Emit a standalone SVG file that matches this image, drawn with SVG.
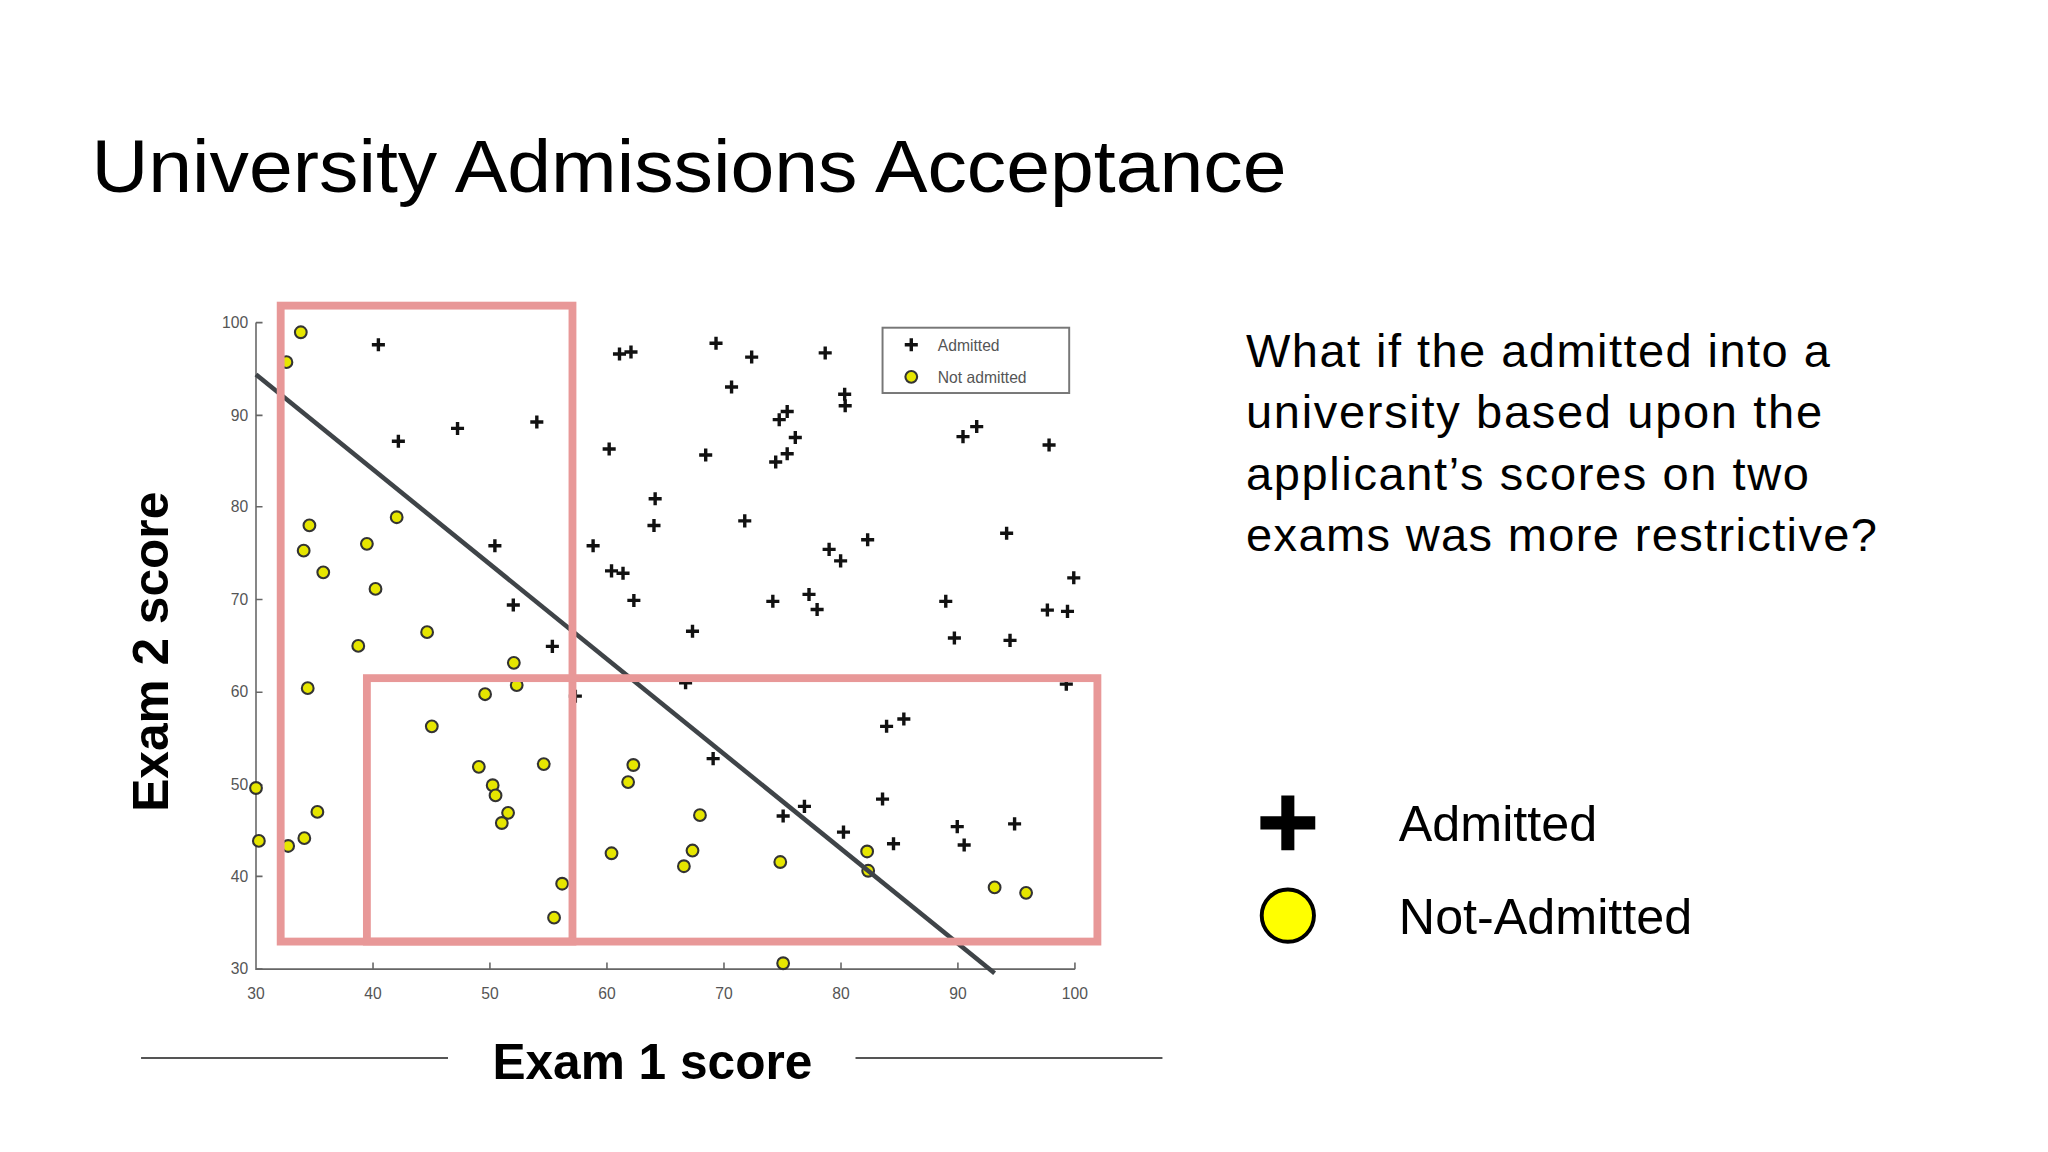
<svg xmlns="http://www.w3.org/2000/svg" width="2048" height="1152" viewBox="0 0 2048 1152">
<defs>
<style>
.t{font-family:"Liberation Sans",Arial,sans-serif;fill:#000}
.tk{font-family:"Liberation Sans",Arial,sans-serif;font-size:12px;fill:#555}
.ax{stroke:#666;stroke-width:1.2;fill:none}
.pk{fill:none;stroke:#e89898;stroke-width:6}
</style>
<g id="cr"><path d="M-5 0H5M0 -5V5" stroke="#111" stroke-width="2.6"/></g>
<g id="ci"><circle r="4.5" fill="#e6e600" stroke="#333" stroke-width="1.6"/></g>
</defs>
<rect width="2048" height="1152" fill="#fff"/>
<g transform="scale(1.30612)">
<text class="t" x="70" y="147" font-size="57" textLength="915" lengthAdjust="spacingAndGlyphs">University Admissions Acceptance</text>
<g id="axes">
<path class="ax" d="M196 247V742H823"/>
<path class="ax" d="M196 247h5M196 318h5M196 388h5M196 459h5M196 530h5M196 601h5M196 671h5M196 742h5M285.6 742v-5M375.1 742v-5M464.7 742v-5M554.3 742v-5M643.9 742v-5M733.4 742v-5M823 742v-5"/>
<g class="tk" text-anchor="end"><text x="190" y="251">100</text><text x="190" y="322">90</text><text x="190" y="392">80</text><text x="190" y="463">70</text><text x="190" y="534">60</text><text x="190" y="605">50</text><text x="190" y="675">40</text><text x="190" y="746">30</text></g>
<g class="tk" text-anchor="middle"><text x="196" y="765">30</text><text x="285.6" y="765">40</text><text x="375.1" y="765">50</text><text x="464.7" y="765">60</text><text x="554.3" y="765">70</text><text x="643.9" y="765">80</text><text x="733.4" y="765">90</text><text x="823" y="765">100</text></g>
</g>
<g id="admitted">
<use href="#cr" x="289.7" y="263.9"/><use href="#cr" x="305" y="337.8"/><use href="#cr" x="350.3" y="328"/><use href="#cr" x="411" y="323.1"/><use href="#cr" x="378.9" y="417.8"/><use href="#cr" x="393" y="463.2"/><use href="#cr" x="422.9" y="494.9"/><use href="#cr" x="440.5" y="533"/><use href="#cr" x="466.4" y="343.8"/><use href="#cr" x="474.3" y="271"/><use href="#cr" x="483.1" y="269.5"/><use href="#cr" x="548.2" y="262.8"/><use href="#cr" x="560.1" y="296.3"/><use href="#cr" x="575.5" y="273.4"/><use href="#cr" x="631.8" y="270.2"/><use href="#cr" x="646.7" y="301.9"/><use href="#cr" x="647.1" y="310.7"/><use href="#cr" x="596.6" y="321.3"/><use href="#cr" x="602.7" y="315"/><use href="#cr" x="608.9" y="335"/><use href="#cr" x="593.9" y="353.7"/><use href="#cr" x="602.7" y="347.4"/><use href="#cr" x="540.3" y="348.4"/><use href="#cr" x="501.6" y="381.9"/><use href="#cr" x="500.7" y="402.3"/><use href="#cr" x="570.2" y="398.8"/><use href="#cr" x="454.1" y="417.8"/><use href="#cr" x="468.2" y="437.1"/><use href="#cr" x="477" y="438.9"/><use href="#cr" x="485.3" y="459.7"/><use href="#cr" x="530.2" y="483.3"/><use href="#cr" x="524.9" y="522.7"/><use href="#cr" x="591.7" y="460.4"/><use href="#cr" x="619.4" y="455.1"/><use href="#cr" x="625.6" y="466.7"/><use href="#cr" x="634.8" y="420.6"/><use href="#cr" x="643.6" y="429.4"/><use href="#cr" x="664.3" y="413.2"/><use href="#cr" x="737.3" y="334.3"/><use href="#cr" x="747.8" y="326.6"/><use href="#cr" x="803.2" y="340.7"/><use href="#cr" x="770.7" y="408.3"/><use href="#cr" x="822.1" y="442.4"/><use href="#cr" x="724.1" y="460.4"/><use href="#cr" x="730.7" y="488.5"/><use href="#cr" x="773.3" y="490.3"/><use href="#cr" x="801.9" y="467.1"/><use href="#cr" x="817.3" y="468.1"/><use href="#cr" x="816.4" y="523.8"/><use href="#cr" x="678.8" y="556.1"/><use href="#cr" x="692" y="550.5"/><use href="#cr" x="546" y="580.8"/><use href="#cr" x="675.7" y="611.8"/><use href="#cr" x="615.9" y="617.4"/><use href="#cr" x="599.6" y="624.8"/><use href="#cr" x="645.8" y="637.1"/><use href="#cr" x="684.1" y="646"/><use href="#cr" x="732.9" y="632.9"/><use href="#cr" x="738.2" y="647"/><use href="#cr" x="776.8" y="630.8"/>
</g>
<g id="notadmitted">
<use href="#ci" x="230.3" y="254.4"/><use href="#ci" x="219.3" y="277.3"/><use href="#ci" x="236.9" y="402.3"/><use href="#ci" x="232.5" y="421.6"/><use href="#ci" x="247.5" y="438.2"/><use href="#ci" x="280.9" y="416.4"/><use href="#ci" x="287.5" y="450.9"/><use href="#ci" x="303.7" y="396"/><use href="#ci" x="274.3" y="494.5"/><use href="#ci" x="327" y="484"/><use href="#ci" x="235.6" y="526.9"/><use href="#ci" x="330.6" y="556.1"/><use href="#ci" x="371.4" y="531.5"/><use href="#ci" x="393.4" y="507.5"/><use href="#ci" x="395.6" y="524.5"/><use href="#ci" x="366.6" y="587.1"/><use href="#ci" x="416.3" y="585"/><use href="#ci" x="377.2" y="601.2"/><use href="#ci" x="379.4" y="609"/><use href="#ci" x="389" y="622.3"/><use href="#ci" x="384.2" y="630.1"/><use href="#ci" x="196" y="603.3"/><use href="#ci" x="198.2" y="643.8"/><use href="#ci" x="220.6" y="647.7"/><use href="#ci" x="233" y="641.7"/><use href="#ci" x="243" y="621.6"/><use href="#ci" x="430.4" y="676.6"/><use href="#ci" x="424.2" y="702.6"/><use href="#ci" x="468.2" y="653.3"/><use href="#ci" x="480.9" y="598.8"/><use href="#ci" x="484.9" y="585.7"/><use href="#ci" x="535.9" y="624.1"/><use href="#ci" x="530.2" y="651.2"/><use href="#ci" x="523.6" y="663.2"/><use href="#ci" x="597.4" y="660"/><use href="#ci" x="599.6" y="737.5"/><use href="#ci" x="663.9" y="651.9"/><use href="#ci" x="664.7" y="666.7"/><use href="#ci" x="761.5" y="679.4"/><use href="#ci" x="785.6" y="683.6"/>
</g>
<g id="boundary"><line x1="196" y1="286.8" x2="761.5" y2="745.2" stroke="#3f4448" stroke-width="3.5"/></g>
<g id="legend-box">
<rect x="675.7" y="250.9" width="142.9" height="50" fill="#fff" stroke="#777" stroke-width="1.5"/>
<use href="#cr" x="697.7" y="263.9"/><use href="#ci" x="697.7" y="288.5"/>
<text class="tk" x="718" y="268.5" font-size="13" fill="#333">Admitted</text>
<text class="tk" x="718" y="293" font-size="13" fill="#333">Not admitted</text>
</g>
<g id="regions">
<rect class="pk" x="214.9" y="234" width="223.4" height="486.9"/>
<rect class="pk" x="280.9" y="519.2" width="559.3" height="201.7"/>
</g>
<text class="t" font-weight="bold" font-size="38" transform="translate(129,499) rotate(-90)" text-anchor="middle">Exam 2 score</text>
<text class="t" font-weight="bold" font-size="38" x="499.5" y="826" text-anchor="middle">Exam 1 score</text>
<path d="M108 810H343M655 810H890" stroke="#555" stroke-width="1.5"/>
<g class="t" font-size="36"><text x="954" y="281" textLength="447">What if the admitted into a</text><text x="954" y="328" textLength="441">university based upon the</text><text x="954" y="375" textLength="431">applicant’s scores on two</text><text x="954" y="422" textLength="483">exams was more restrictive?</text></g>
<g id="key">
<path d="M981 609h10v16h16v10h-16v16h-10v-16h-16v-10h16z" fill="#000"/>
<circle cx="986" cy="701" r="20" fill="#ffff00" stroke="#000" stroke-width="3"/>
<text class="t" x="1071" y="644" font-size="38.5">Admitted</text>
<text class="t" x="1071" y="715" font-size="38.5">Not-Admitted</text>
</g>
</g>
</svg>
